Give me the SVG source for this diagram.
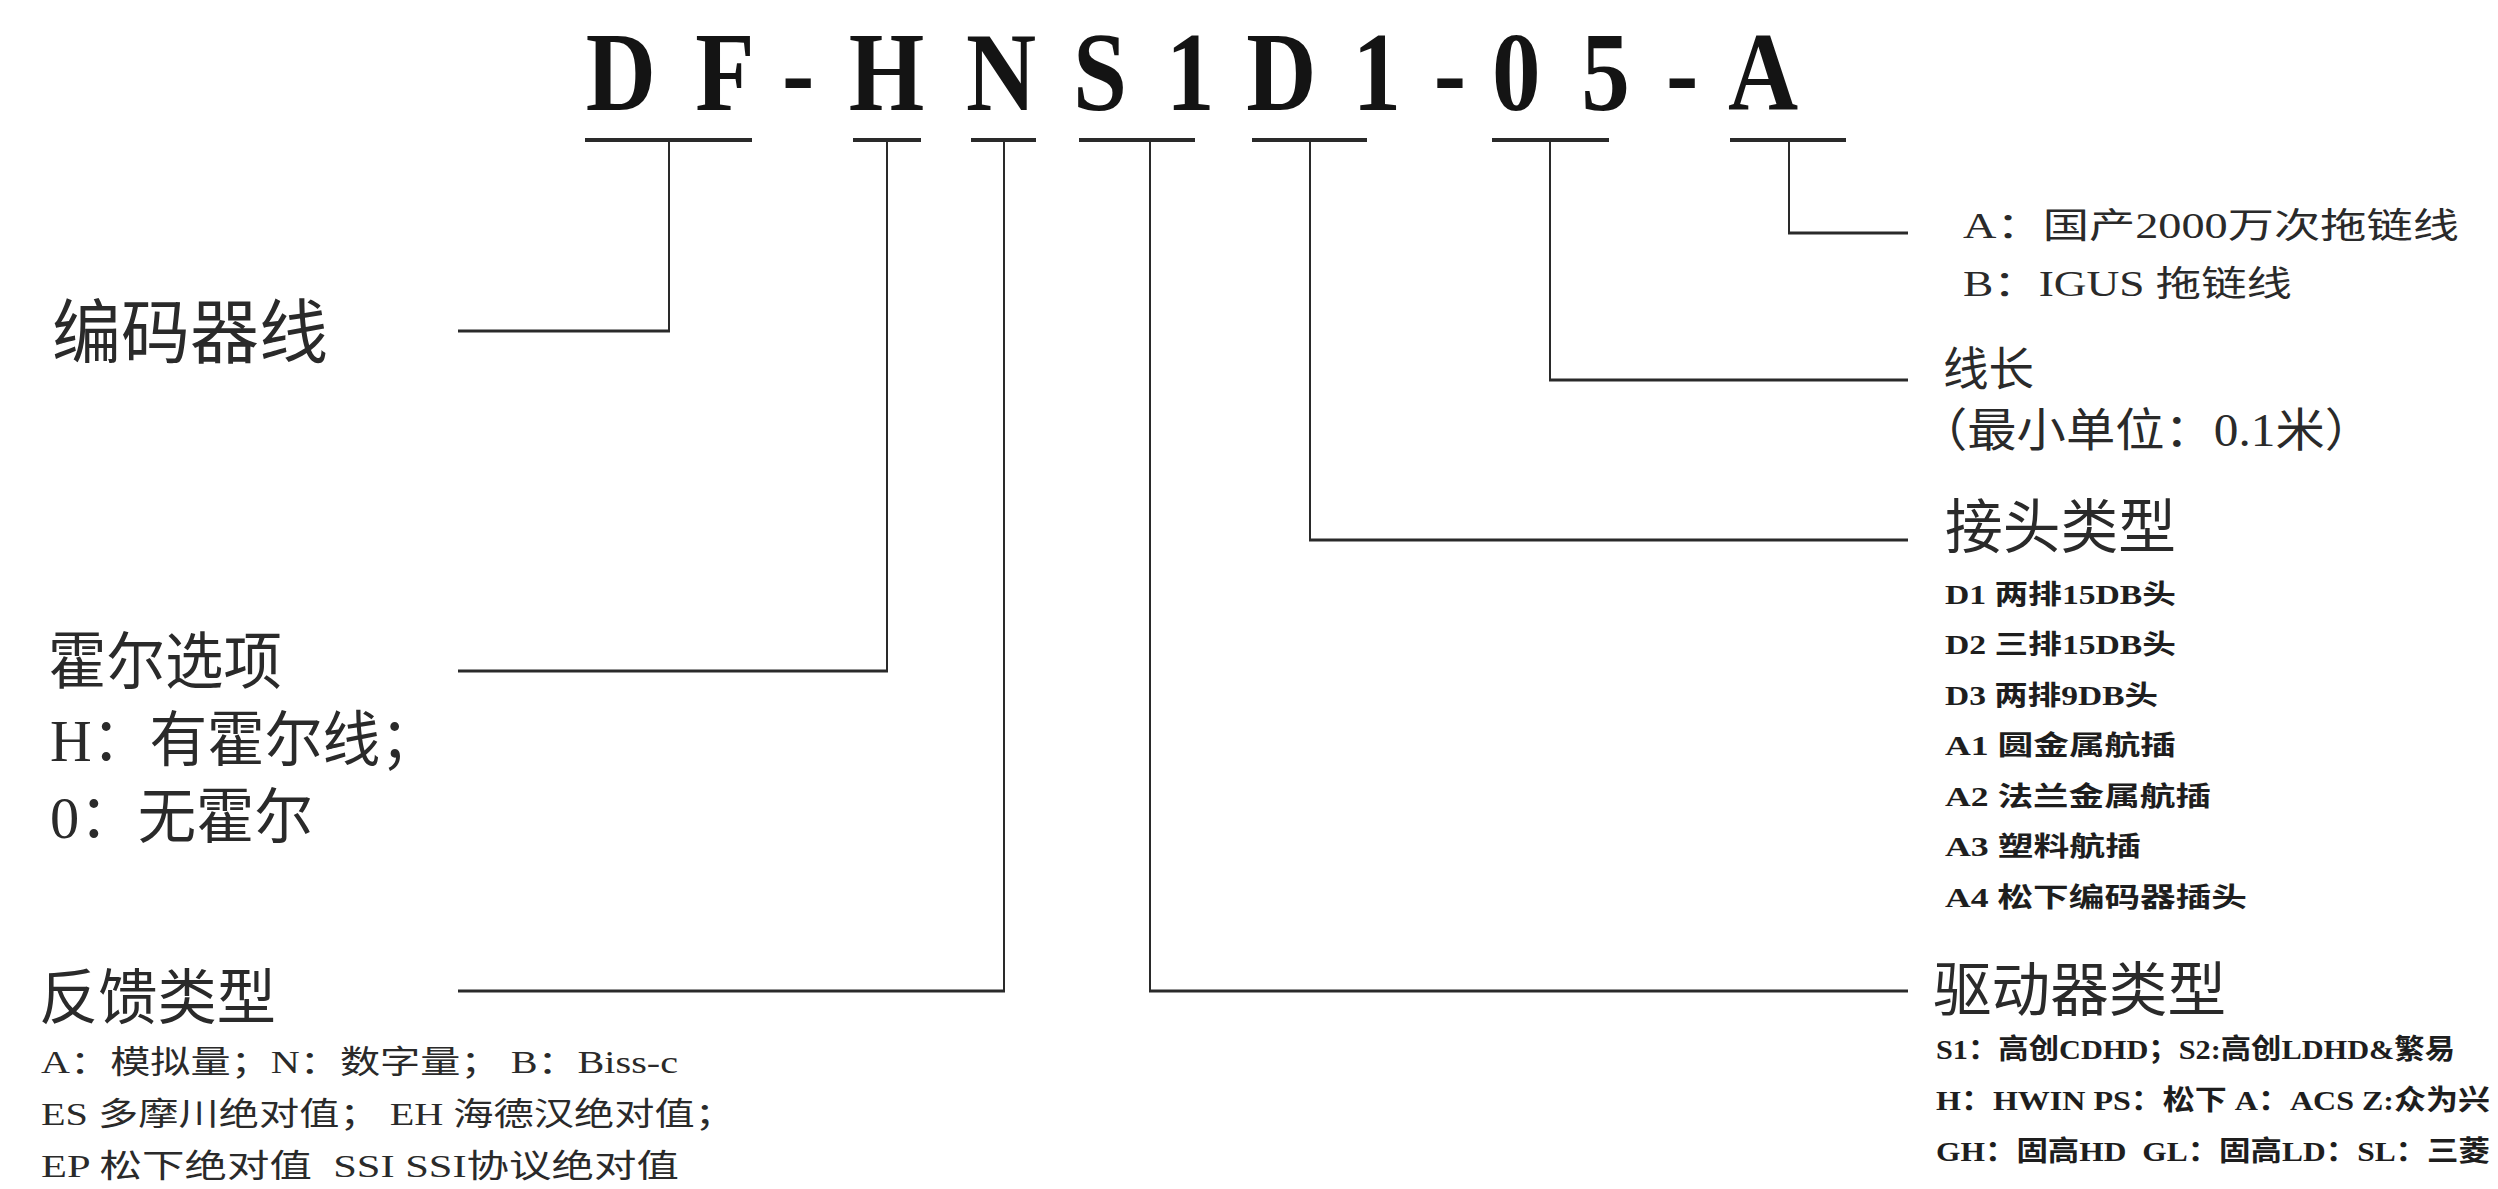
<svg xmlns="http://www.w3.org/2000/svg" width="2498" height="1189" viewBox="0 0 2498 1189">
<style>
.bg{fill:#ffffff}
.title{font-family:"Liberation Serif",serif;font-weight:bold;font-size:113px;fill:#141414;text-anchor:middle}
.ul{stroke:#2a2a2a;stroke-width:4;fill:none}
.v{stroke:#2a2a2a;stroke-width:2;fill:none}
.h{stroke:#2a2a2a;stroke-width:3;fill:none}
.cjk{font-family:"Noto Sans CJK SC",sans-serif;fill:#2a2a2a}
.mix{font-family:"Liberation Serif","Noto Sans CJK SC",serif;fill:#2a2a2a;white-space:pre}
.bold{font-weight:bold;fill:#1e1e1e}
</style>
<rect class="bg" x="0" y="0" width="2498" height="1189"/>

<g id="title" transform="scale(0.86,1)">
  <text class="title" x="722" y="110">D</text>
  <text class="title" x="843" y="110">F</text>
  <text class="title" x="928" y="110">-</text>
  <text class="title" x="1031" y="110">H</text>
  <text class="title" x="1164" y="110">N</text>
  <text class="title" x="1279" y="110">S</text>
  <text class="title" x="1384" y="110">1</text>
  <text class="title" x="1490" y="110">D</text>
  <text class="title" x="1601" y="110">1</text>
  <text class="title" x="1686" y="110">-</text>
  <text class="title" x="1763" y="110">0</text>
  <text class="title" x="1867" y="110">5</text>
  <text class="title" x="1956" y="110">-</text>
  <text class="title" x="2050" y="110">A</text>
</g>

<g id="connectors">
  <line class="ul" x1="585" y1="140" x2="752" y2="140"/>
  <line class="ul" x1="853" y1="140" x2="921" y2="140"/>
  <line class="ul" x1="971" y1="140" x2="1036" y2="140"/>
  <line class="ul" x1="1079" y1="140" x2="1195" y2="140"/>
  <line class="ul" x1="1252" y1="140" x2="1367" y2="140"/>
  <line class="ul" x1="1492" y1="140" x2="1609" y2="140"/>
  <line class="ul" x1="1730" y1="140" x2="1846" y2="140"/>

  <line class="v" x1="669" y1="140" x2="669" y2="332"/>
  <line class="h" x1="458" y1="331" x2="670" y2="331"/>

  <line class="v" x1="887" y1="140" x2="887" y2="672"/>
  <line class="h" x1="458" y1="671" x2="888" y2="671"/>

  <line class="v" x1="1004" y1="140" x2="1004" y2="992"/>
  <line class="h" x1="458" y1="991" x2="1005" y2="991"/>

  <line class="v" x1="1150" y1="140" x2="1150" y2="992"/>
  <line class="h" x1="1149" y1="991" x2="1908" y2="991"/>

  <line class="v" x1="1310" y1="140" x2="1310" y2="541"/>
  <line class="h" x1="1309" y1="540" x2="1908" y2="540"/>

  <line class="v" x1="1550" y1="140" x2="1550" y2="381"/>
  <line class="h" x1="1549" y1="380" x2="1908" y2="380"/>

  <line class="v" x1="1789" y1="140" x2="1789" y2="234"/>
  <line class="h" x1="1788" y1="233" x2="1908" y2="233"/>
</g>

<g id="node-encoder">
  <text class="cjk" x="52" y="358" font-size="70" textLength="276" lengthAdjust="spacingAndGlyphs">编码器线</text>
</g>

<g id="node-hall">
  <text class="cjk" x="48" y="684" font-size="62" textLength="234" lengthAdjust="spacingAndGlyphs">霍尔选项</text>
  <text class="mix" x="50" y="761" font-size="60" textLength="388" lengthAdjust="spacingAndGlyphs">H：有霍尔线；</text>
  <text class="mix" x="50" y="838" font-size="60" textLength="263" lengthAdjust="spacingAndGlyphs">0：无霍尔</text>
</g>

<g id="node-feedback">
  <text class="cjk" x="39" y="1019" font-size="60" textLength="237" lengthAdjust="spacingAndGlyphs">反馈类型</text>
  <text class="mix" x="41" y="1073" font-size="32" textLength="637" lengthAdjust="spacingAndGlyphs">A：模拟量；N：数字量； B：Biss-c</text>
  <text class="mix" x="41" y="1125" font-size="32" textLength="694" lengthAdjust="spacingAndGlyphs">ES 多摩川绝对值； EH 海德汉绝对值；</text>
  <text class="mix" x="41" y="1177" font-size="32" textLength="638" lengthAdjust="spacingAndGlyphs">EP 松下绝对值  SSI SSI协议绝对值</text>
</g>

<g id="node-cable">
  <text class="mix" x="1963" y="238" font-size="35" textLength="496" lengthAdjust="spacingAndGlyphs">A：国产2000万次拖链线</text>
  <text class="mix" x="1963" y="296" font-size="35" textLength="329" lengthAdjust="spacingAndGlyphs">B：IGUS 拖链线</text>
</g>

<g id="node-length">
  <text class="cjk" x="1943" y="385" font-size="46" textLength="91" lengthAdjust="spacingAndGlyphs">线长</text>
  <text class="mix" x="1918" y="446" font-size="46" textLength="456" lengthAdjust="spacingAndGlyphs">（最小单位：0.1米）</text>
</g>

<g id="node-connector">
  <text class="cjk" x="1945" y="548" font-size="59" textLength="231" lengthAdjust="spacingAndGlyphs">接头类型</text>
  <text class="mix bold" x="1945" y="604" font-size="27" textLength="231" lengthAdjust="spacingAndGlyphs">D1 两排15DB头</text>
  <text class="mix bold" x="1945" y="654" font-size="27" textLength="231" lengthAdjust="spacingAndGlyphs">D2 三排15DB头</text>
  <text class="mix bold" x="1945" y="705" font-size="27" textLength="213" lengthAdjust="spacingAndGlyphs">D3 两排9DB头</text>
  <text class="mix bold" x="1945" y="755" font-size="27" textLength="231" lengthAdjust="spacingAndGlyphs">A1 圆金属航插</text>
  <text class="mix bold" x="1945" y="806" font-size="27" textLength="266" lengthAdjust="spacingAndGlyphs">A2 法兰金属航插</text>
  <text class="mix bold" x="1945" y="856" font-size="27" textLength="196" lengthAdjust="spacingAndGlyphs">A3 塑料航插</text>
  <text class="mix bold" x="1945" y="907" font-size="27" textLength="302" lengthAdjust="spacingAndGlyphs">A4 松下编码器插头</text>
</g>

<g id="node-drive">
  <text class="cjk" x="1933" y="1011" font-size="59" textLength="293" lengthAdjust="spacingAndGlyphs">驱动器类型</text>
  <text class="mix bold" x="1936" y="1059" font-size="28" textLength="519" lengthAdjust="spacingAndGlyphs">S1：高创CDHD；S2:高创LDHD&amp;繁易</text>
  <text class="mix bold" x="1936" y="1110" font-size="28" textLength="554" lengthAdjust="spacingAndGlyphs">H：HWIN PS：松下 A：ACS Z:众为兴</text>
  <text class="mix bold" x="1936" y="1161" font-size="28" textLength="554" lengthAdjust="spacingAndGlyphs">GH：固高HD  GL：固高LD：SL：三菱</text>
</g>
</svg>
